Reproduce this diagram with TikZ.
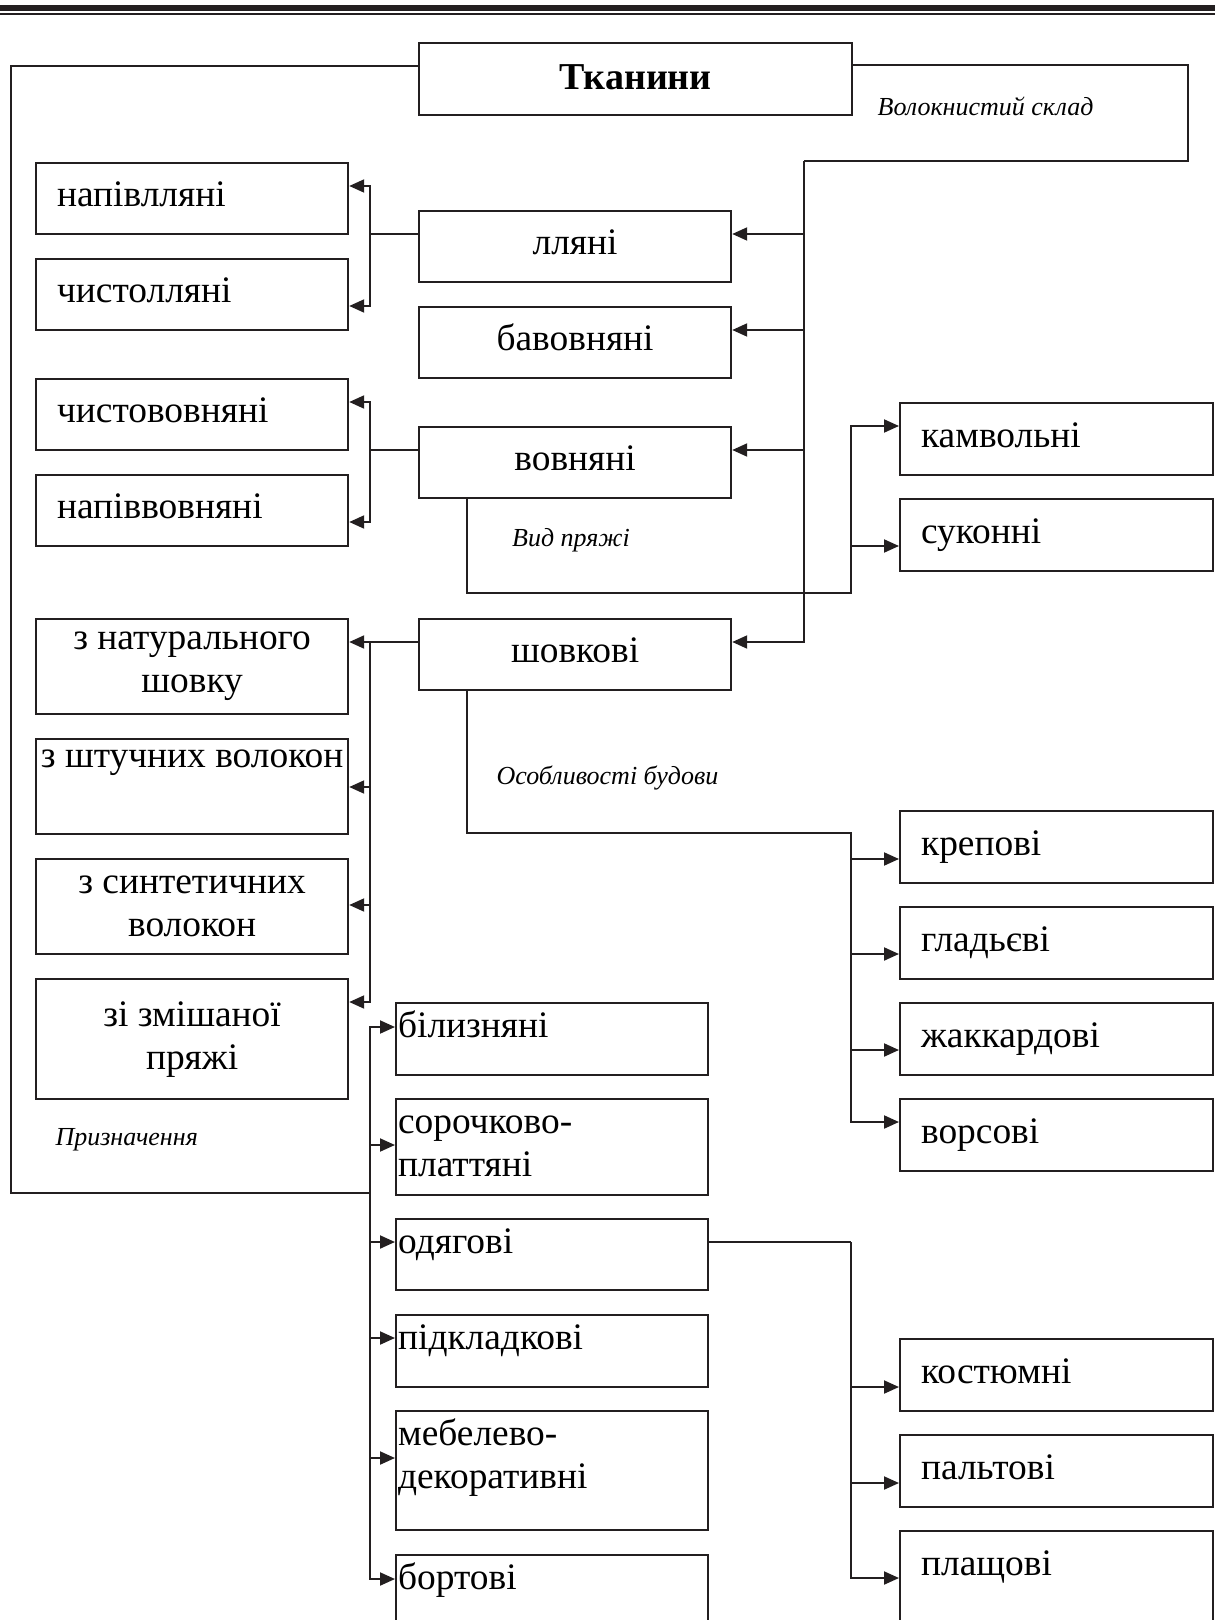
\documentclass[tikz,border=0pt]{standalone}
\usepackage{fontspec}
\setmainfont{Liberation Serif}
\usetikzlibrary{arrows.meta}
\definecolor{ink}{HTML}{231F20}

\begin{document}
\begin{tikzpicture}[
    x=0.5pt, y=-0.5pt,
    line width=1pt, draw=ink,
    box/.style={draw=ink, line width=1.1pt, rectangle, anchor=north west, inner ysep=0pt,
        font=\fontsize{18.7}{21.5}\selectfont},
    lbox/.style={box, minimum width=156pt, minimum height=35.5pt, align=center,
        text height=12.5pt, text depth=4.5pt},
    lboxl/.style={box, inner xsep=10.5pt, text width=135pt, minimum height=35.5pt,
        align=left, text height=12.5pt, text depth=4.5pt},
    lbox2/.style={box, inner xsep=1pt, minimum width=156pt, minimum height=47.5pt, align=center},
    rbox/.style={box, inner xsep=10.5pt, text width=135.5pt, align=left,
        text height=22pt, text depth=14pt},
    pbox/.style={box, inner xsep=1pt, text width=154pt, align=left,
        text height=17pt, text depth=19pt},
    lab/.style={font=\fontsize{13}{15}\selectfont\itshape},
    >={Triangle[length=7.5pt,width=6.5pt]}
]
\useasboundingbox (0,0) rectangle (1215,1620);
\clip (0,0) rectangle (1215,1620);

% Header rules
\fill[ink] (0,4.9) rectangle (1215,10.7);
\fill[ink] (0,12.7) rectangle (1215,15.3);

% Root
\node[box, minimum width=216.5pt, minimum height=36pt, text height=13pt, text depth=3pt,
      font=\fontsize{19}{22}\selectfont\bfseries] (root) at (418,42) {Тканини};

% Fibre composition
\node[lbox] (f1) at (418,210) {лляні};
\node[lbox] (f2) at (418,306) {бавовняні};
\node[lbox] (f3) at (418,426) {вовняні};
\node[lbox] (f4) at (418,618) {шовкові};

\node[lboxl] (f1a) at (35,162) {напівлляні};
\node[lboxl] (f1b) at (35,258) {чистолляні};
\node[lboxl] (f3a) at (35,378) {чистововняні};
\node[lboxl] (f3b) at (35,474) {напіввовняні};
\node[lbox2] (f4a) at (35,618) {з натурального\\шовку};
\node[lbox2] (f4b) at (35,738) {з штучних волокон\\\strut};
\node[lbox2] (f4c) at (35,858) {з синтетичних\\волокон};
\node[lbox2, minimum height=60pt] (f4d) at (35,978) {зі змішаної\\пряжі};

% Yarn type
\node[rbox] (y1) at (899,402) {камвольні};
\node[rbox] (y2) at (899,498) {суконні};

% Structure
\node[rbox] (s1) at (899,810) {крепові};
\node[rbox] (s2) at (899,906) {гладьєві};
\node[rbox] (s3) at (899,1002) {жаккардові};
\node[rbox] (s4) at (899,1098) {ворсові};

% Purpose
\node[pbox] (p1) at (395,1002) {білизняні};
\node[pbox, text depth=31pt] (p2) at (395,1098) {сорочково-\\платтяні};
\node[pbox, text depth=18.5pt] (p3) at (395,1218) {одягові};
\node[pbox] (p4) at (395,1314) {підкладкові};
\node[pbox, text depth=42.5pt] (p5) at (395,1410) {мебелево-\\декоративні};
\node[pbox, text depth=50pt] (p6) at (395,1554) {бортові};

\node[rbox] (p3a) at (899,1338) {костюмні};
\node[rbox] (p3b) at (899,1434) {пальтові};
\node[rbox, text depth=50pt] (p3c) at (899,1530) {плащові};

% Labels
\node[lab] (lfib) at (985.5,106) {Волокнистий склад};
\node[lab] (lyarn) at (571,540) {Вид пряжі};
\node[lab] (lstr) at (607.5,778) {Особливості будови};
\node[lab] (lpur) at (126.7,1140) {Призначення};

% Bend points
\coordinate (fib) at (804,161);
\coordinate (pur) at (370,1193);
\coordinate (yarn) at (851,593);
\coordinate (str) at (851,833);
\coordinate (clo) at (851,1242);

% --- Fibre composition ---
\draw ([yshift=-11.5pt]root.north east) -| (1188,161) -- (fib);
\draw[->] (fib) |- ([yshift=-12pt]f1.north east);
\draw[->] (fib) |- ([yshift=-12pt]f2.north east);
\draw[->] (fib) |- ([yshift=-12pt]f3.north east);
\draw[->] (fib) |- ([yshift=-12pt]f4.north east);

\draw[->] ([yshift=-12pt]f1.north west) -- ++(-24pt,0pt) |- ([yshift=-12pt]f1a.north east);
\draw[->] ([yshift=-12pt]f1.north west) -- ++(-24pt,0pt) |- ([yshift=-24pt]f1b.north east);
\draw[->] ([yshift=-12pt]f3.north west) -- ++(-24pt,0pt) |- ([yshift=-12pt]f3a.north east);
\draw[->] ([yshift=-12pt]f3.north west) -- ++(-24pt,0pt) |- ([yshift=-24pt]f3b.north east);
\draw[->] ([yshift=-12pt]f4.north west) -- ++(-24pt,0pt) |- ([yshift=-12pt]f4a.north east);
\draw[->] ([yshift=-12pt]f4.north west) -- ++(-24pt,0pt) |- ([yshift=-24.5pt]f4b.north east);
\draw[->] ([yshift=-12pt]f4.north west) -- ++(-24pt,0pt) |- ([yshift=-23.5pt]f4c.north east);
\draw[->] ([yshift=-12pt]f4.north west) -- ++(-24pt,0pt) |- ([yshift=-12pt]f4d.north east);

% --- Yarn type ---
\draw[->] ([xshift=24.5pt]f3.south west) |- (yarn) |- ([yshift=-12pt]y1.north west);
\draw[->] (yarn) |- ([yshift=-24pt]y2.north west);

% --- Structure ---
\draw[->] ([xshift=24.5pt]f4.south west) |- (str) |- ([yshift=-24.5pt]s1.north west);
\draw[->] (str) |- ([yshift=-24pt]s2.north west);
\draw[->] (str) |- ([yshift=-24pt]s3.north west);
\draw[->] (str) |- ([yshift=-12pt]s4.north west);

% --- Purpose ---
\draw ([yshift=-12pt]root.north west) -| (11,1193) -- (pur);
\draw[->] (pur) |- ([yshift=-12.5pt]p1.north west);
\draw[->] (pur) |- ([yshift=-23.5pt]p2.north west);
\draw[->] (pur) |- ([yshift=-12pt]p3.north west);
\draw[->] (pur) |- ([yshift=-12pt]p4.north west);
\draw[->] (pur) |- ([yshift=-24pt]p5.north west);
\draw[->] (pur) |- ([yshift=-12.5pt]p6.north west);

\draw ([yshift=-12pt]p3.north east) -- (clo);
\draw[->] (clo) |- ([yshift=-24.5pt]p3a.north west);
\draw[->] (clo) |- ([yshift=-24.5pt]p3b.north west);
\draw[->] (clo) |- ([yshift=-24pt]p3c.north west);

\end{tikzpicture}
\end{document}
